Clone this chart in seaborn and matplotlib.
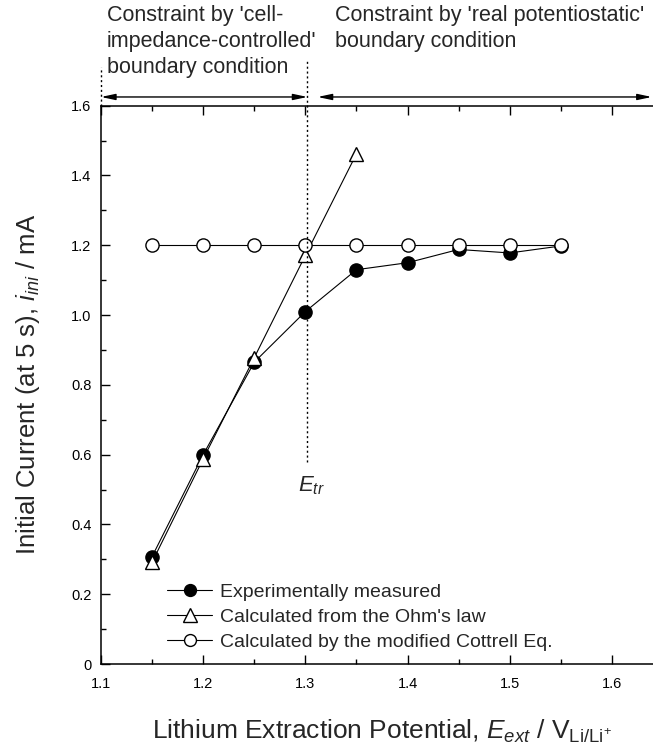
import matplotlib
matplotlib.use("Agg")
import matplotlib.pyplot as plt
import seaborn as sns
import pandas as pd
from matplotlib.ticker import MultipleLocator, FuncFormatter

# data
potential = [1.15, 1.20, 1.25, 1.30, 1.35, 1.40, 1.45, 1.50, 1.55]
measured = [0.308, 0.600, 0.865, 1.010, 1.130, 1.150, 1.188, 1.178, 1.198]
ohm_potential = [1.15, 1.20, 1.25, 1.30, 1.35]
ohm_current = [0.292, 0.588, 0.878, 1.171, 1.462]
cottrell_current = [1.20, 1.20, 1.20, 1.20, 1.20, 1.20, 1.20, 1.20, 1.20]

labels = ["Experimentally measured",
          "Calculated from the Ohm's law",
          "Calculated by the modified Cottrell Eq."]
e_tr = 1.302

sns.set_theme(style="ticks")
plt.rcParams['font.family'] = ['Liberation Sans', 'DejaVu Sans']
plt.rcParams['mathtext.fontset'] = 'custom'
plt.rcParams['mathtext.rm'] = 'Liberation Sans'
plt.rcParams['mathtext.it'] = 'Liberation Sans:italic'

fig = plt.figure(figsize=(6.53, 7.47), dpi=100)
# right spine sits just past the figure edge (cropped like the original)
ax = fig.add_axes([0.1547, 0.1111, 0.8606, 0.7474])

df_exp = pd.DataFrame({"E": potential, "i": measured})
df_ohm = pd.DataFrame({"E": ohm_potential, "i": ohm_current})
df_cot = pd.DataFrame({"E": potential, "i": cottrell_current})

sns.lineplot(data=df_exp, x="E", y="i", ax=ax, color="black", lw=0.8,
             marker="o", markersize=9.5, markerfacecolor="black",
             markeredgecolor="black", markeredgewidth=1, label=labels[0])
sns.lineplot(data=df_ohm, x="E", y="i", ax=ax, color="black", lw=0.8,
             marker="^", markersize=10.5, markerfacecolor="white",
             markeredgecolor="black", markeredgewidth=1, label=labels[1])
sns.lineplot(data=df_cot, x="E", y="i", ax=ax, color="black", lw=0.8,
             marker="o", markersize=9.5, markerfacecolor="white",
             markeredgecolor="black", markeredgewidth=1, label=labels[2])

ax.set_xlim(1.1, 1.65)
ax.set_ylim(0, 1.6)
ax.xaxis.set_major_locator(MultipleLocator(0.1))
ax.xaxis.set_minor_locator(MultipleLocator(0.05))
ax.yaxis.set_major_locator(MultipleLocator(0.2))
ax.yaxis.set_minor_locator(MultipleLocator(0.1))
ax.xaxis.set_major_formatter(FuncFormatter(lambda v, _: '' if v > 1.62 else f'{v:.1f}'))
ax.yaxis.set_major_formatter(FuncFormatter(lambda v, _: '0' if abs(v) < 1e-9 else f'{v:.1f}'))
ax.tick_params(which='both', direction='in', top=True, right=True,
               labelsize=10.5, width=1, colors='black')
ax.tick_params(which='major', length=6.5)
ax.tick_params(axis='x', which='major', pad=9)
ax.tick_params(axis='y', which='major', pad=7)
ax.tick_params(which='minor', length=3.5)
for s in ax.spines.values():
    s.set_linewidth(1.1)
    s.set_color('black')

ax.set_xlabel(r"Lithium Extraction Potential, $E_{ext}$ / V$_{\mathrm{Li/Li}^{+}}$",
              fontsize=19, labelpad=20)
ax.set_ylabel(r"Initial Current (at 5 s), $i_{ini}$ / mA", fontsize=18.5, labelpad=21)

# transition potential and boundary regions
ax.plot([e_tr, e_tr], [0.58, 1.73], ls=(0, (1.5, 2)), color='black', lw=1, clip_on=False)
ax.plot([1.1, 1.1], [1.6, 1.71], ls=(0, (1.5, 2)), color='black', lw=1, clip_on=False)
ax.text(1.306, 0.51, r"$E_{tr}$", fontsize=16, ha='center', va='center')

arrow = dict(arrowstyle='<|-|>,head_length=0.7,head_width=0.15', color='black',
             lw=1, shrinkA=0, shrinkB=0)
ax.annotate("", xy=(1.1, 1.625), xytext=(e_tr, 1.625), arrowprops=arrow,
            annotation_clip=False)
ax.annotate("", xy=(1.312, 1.625), xytext=(1.639, 1.625), arrowprops=arrow,
            annotation_clip=False)

fig.text(107 / 653, 1 - 5 / 747, "Constraint by 'cell-\nimpedance-controlled'\nboundary condition",
         fontsize=15.5, ha='left', va='top', linespacing=1.3)
fig.text(335 / 653, 1 - 5 / 747, "Constraint by 'real potentiostatic'\nboundary condition",
         fontsize=15.5, ha='left', va='top', linespacing=1.3)

ax.legend(loc='lower left', bbox_to_anchor=(0.1177, 0.0236), frameon=False,
          fontsize=14, handlelength=2.3, handletextpad=0.4, labelspacing=0.38,
          borderpad=0, borderaxespad=0, markerscale=0.9)

fig.savefig("out.png", dpi=100)
